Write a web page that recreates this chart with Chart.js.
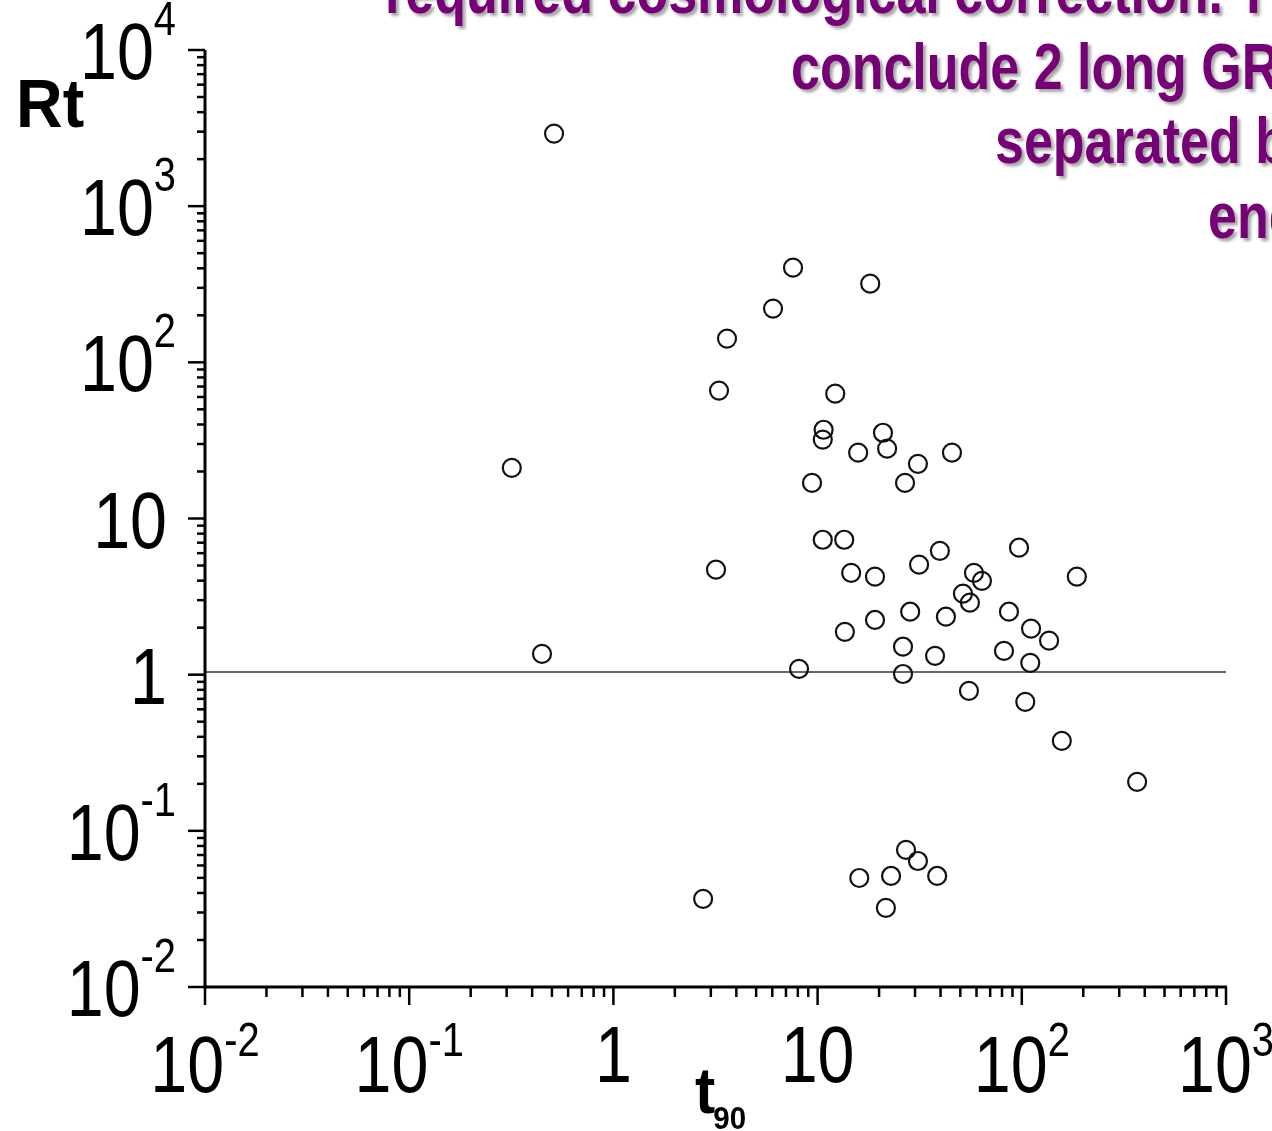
<!DOCTYPE html>
<html>
<head>
  <meta charset="UTF-8">
  <title>Rt vs t90</title>
  <script src="https://cdn.jsdelivr.net/npm/chart.js"></script>
  <style>
    html, body { margin: 0; padding: 0; background: #fff; }
    canvas { display: block; }
  </style>
</head>
<body>
  <canvas id="scatter" width="1272" height="1131"></canvas>

  <script>
    // values
    const t90 = [0.512, 0.318, 0.447, 3.18, 3.29, 3.60, 6.05, 7.58, 18.1, 12.2,
                 10.7, 10.6, 15.8, 20.9, 21.9, 31.0, 45.5, 9.39, 26.8, 10.6,
                 13.5, 14.6, 19.1, 31.4, 39.7, 96.9, 58.3, 63.8, 51.5, 55.7,
                 186, 28.4, 19.1, 13.6, 42.5, 86.5, 111, 136, 26.2, 37.6,
                 81.8, 110, 8.11, 26.2, 55.1, 104, 157, 367, 2.75, 16.0,
                 22.9, 27.1, 31.0, 38.5, 21.6];
    const rt = [2917, 21.1, 1.36, 4.70, 65.9, 142, 221, 404, 319, 63.0,
                37.0, 32.0, 26.4, 35.4, 28.0, 22.4, 26.4, 16.9, 16.9, 7.31,
                7.31, 4.49, 4.24, 5.06, 6.21, 6.50, 4.49, 3.99, 3.30, 2.89,
                4.24, 2.53, 2.24, 1.88, 2.35, 2.53, 1.97, 1.65, 1.51, 1.32,
                1.42, 1.19, 1.09, 1.01, 0.787, 0.670, 0.377, 0.206, 0.0367, 0.0499,
                0.0514, 0.0755, 0.0641, 0.0514, 0.0321];

    // reference line
    const refX = [0.01, 1000];
    const refY = [1.04, 1.04];

    // axis ranges and tick labels [base, exponent]
    const xRange = [0.01, 1000];
    const yRange = [0.01, 10000];
    const xTickValues = [0.01, 0.1, 1, 10, 100, 1000];
    const xTickLabels = [['10', '-2'], ['10', '-1'], ['1', ''], ['10', ''], ['10', '2'], ['10', '3']];
    const yTickValues = [0.01, 0.1, 1, 10, 100, 1000, 10000];
    const yTickLabels = [['10', '-2'], ['10', '-1'], ['1', ''], ['10', ''], ['10', '2'], ['10', '3'], ['10', '4']];

    const bannerLines = [
      'required cosmological correction. T',
      'conclude 2 long GR',
      'separated b',
      'end'
    ];

    // text drawn a bit narrower, like the original condensed fonts
    function squeezed(ctx, text, x, y, sx) {
      ctx.save();
      ctx.translate(x, y);
      ctx.scale(sx, 1);
      ctx.fillText(text, 0, 0);
      ctx.restore();
      return ctx.measureText(text).width * sx;
    }
    function widthOf(ctx, text, font, sx) {
      ctx.font = font;
      return ctx.measureText(text).width * sx;
    }

    const baseFont = '80px "Liberation Sans", Arial, sans-serif';
    const supFont = '48px "Liberation Sans", Arial, sans-serif';
    const sx = 0.83;

    const axesPlugin = {
      id: 'axesPlugin',
      afterDraw(chart) {
        const ctx = chart.ctx;
        const xs = chart.scales.x;
        const ys = chart.scales.y;
        const left = chart.chartArea.left, bottom = chart.chartArea.bottom;
        const top = chart.chartArea.top, right = chart.chartArea.right;

        ctx.save();
        ctx.strokeStyle = '#000';
        ctx.fillStyle = '#000';

        // axis lines
        ctx.lineWidth = 3;
        ctx.beginPath();
        ctx.moveTo(left, top);
        ctx.lineTo(left, bottom);
        ctx.lineTo(right + 1, bottom);
        ctx.stroke();

        // ticks, major and minor (1..9 per decade)
        ctx.lineWidth = 2.5;
        const lx0 = Math.log10(xRange[0]), lx1 = Math.log10(xRange[1]);
        for (let e = lx0; e <= lx1; e++) {
          for (let k = 1; k <= 9; k++) {
            const v = k * Math.pow(10, e);
            if (v > xRange[1] * 1.0001) break;
            const px = xs.getPixelForValue(v);
            const len = k === 1 ? 18 : 10;
            ctx.beginPath();
            ctx.moveTo(px, bottom);
            ctx.lineTo(px, bottom + len);
            ctx.stroke();
          }
        }
        const ly0 = Math.log10(yRange[0]), ly1 = Math.log10(yRange[1]);
        for (let e = ly0; e <= ly1; e++) {
          for (let k = 1; k <= 9; k++) {
            const v = k * Math.pow(10, e);
            if (v > yRange[1] * 1.0001) break;
            const py = ys.getPixelForValue(v);
            const len = k === 1 ? 17 : 8;
            ctx.beginPath();
            ctx.moveTo(left, py);
            ctx.lineTo(left - len, py);
            ctx.stroke();
          }
        }

        // x tick labels, centred under the ticks
        ctx.textBaseline = 'alphabetic';
        ctx.textAlign = 'left';
        xTickValues.forEach((v, i) => {
          const [b, s] = xTickLabels[i];
          const px = xs.getPixelForValue(v);
          const wb = widthOf(ctx, b, baseFont, sx);
          const ws = s ? widthOf(ctx, s, supFont, sx) : 0;
          const x0 = px - (wb + ws) / 2;
          const baseY = s ? bottom + 105 : bottom + 95;
          ctx.font = baseFont;
          squeezed(ctx, b, x0, baseY, sx);
          if (s) {
            ctx.font = supFont;
            squeezed(ctx, s, x0 + wb, baseY - 36, sx);
          }
        });

        // y tick labels, right aligned left of the axis
        yTickValues.forEach((v, i) => {
          const [b, s] = yTickLabels[i];
          const py = ys.getPixelForValue(v);
          const wb = widthOf(ctx, b, baseFont, sx);
          const ws = s ? widthOf(ctx, s, supFont, sx) : 0;
          const x0 = left - (s ? 29 : 38) - (wb + ws);
          const baseY = py + 29;
          ctx.font = baseFont;
          squeezed(ctx, b, x0, baseY, sx);
          if (s) {
            ctx.font = supFont;
            squeezed(ctx, s, x0 + wb, baseY - 44, sx);
          }
        });

        // axis titles
        ctx.font = 'bold 68px "Liberation Sans", Arial, sans-serif';
        squeezed(ctx, 'Rt', 16, 127, 0.95);
        ctx.font = 'bold 64px "Liberation Sans", Arial, sans-serif';
        const wt = squeezed(ctx, 't', 695, 1113, 0.95);
        ctx.font = 'bold 31px "Liberation Sans", Arial, sans-serif';
        squeezed(ctx, '90', 695 + wt - 2, 1129, 0.95);

        // purple slide text, cropped by the right edge
        ctx.font = 'bold 65px "Liberation Sans", Arial, sans-serif';
        ctx.fillStyle = '#760076';
        ctx.shadowColor = 'rgba(0,0,0,0.35)';
        ctx.shadowOffsetX = 3;
        ctx.shadowOffsetY = 3;
        ctx.shadowBlur = 3;
        const bannerPos = [[385, 13], [791, 89], [995, 163], [1208, 238]];
        bannerLines.forEach((t, i) => {
          squeezed(ctx, t, bannerPos[i][0], bannerPos[i][1], 0.8);
        });
        ctx.restore();
      }
    };

    const ctx = document.getElementById('scatter').getContext('2d');
    new Chart(ctx, {
      type: 'scatter',
      data: {
        datasets: [
          {
            label: 'Rt',
            data: t90.map((x, i) => ({ x: x, y: rt[i] })),
            pointStyle: 'circle',
            pointRadius: 9,
            pointBorderWidth: 2.2,
            borderColor: '#111',
            backgroundColor: 'rgba(0,0,0,0)',
            pointHoverRadius: 9
          },
          {
            label: 'ref',
            type: 'line',
            data: refX.map((x, i) => ({ x: x, y: refY[i] })),
            borderColor: '#333',
            borderWidth: 1.5,
            pointRadius: 0,
            fill: false
          }
        ]
      },
      options: {
        responsive: false,
        animation: false,
        devicePixelRatio: 1,
        layout: { padding: { left: 205, right: 46, top: 50, bottom: 144 } },
        plugins: {
          legend: { display: false },
          tooltip: { enabled: false }
        },
        scales: {
          x: { type: 'logarithmic', min: xRange[0], max: xRange[1], display: false },
          y: { type: 'logarithmic', min: yRange[0], max: yRange[1], display: false }
        }
      },
      plugins: [axesPlugin]
    });
  </script>
</body>
</html>
